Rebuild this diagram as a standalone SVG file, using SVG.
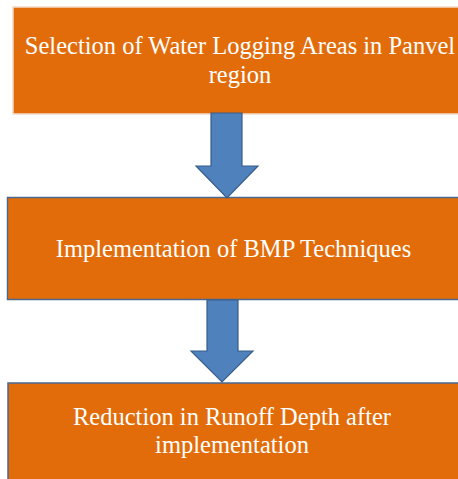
<svg xmlns="http://www.w3.org/2000/svg" width="458" height="479" viewBox="0 0 458 479">
<style>
.box{fill:#E36C0A;stroke-width:1.5}
.t{font-family:"Liberation Serif","Times New Roman",serif;font-size:24.5px;fill:#FFFFFF;text-anchor:middle}
.arr{fill:#4F81BD;stroke:#385D8A;stroke-width:1.2}
</style>
<rect width="458" height="479" fill="#FFFFFF"/>
<g id="node1">
<rect class="box" x="13" y="7" width="460" height="107" stroke="#F2DCC8"/>
<text class="t" x="240" y="54">Selection of Water Logging Areas in Panvel</text>
<text class="t" x="240" y="83">region</text>
</g>
<g id="node2">
<rect class="box" x="7.5" y="197.5" width="470" height="102" stroke="#4A6890"/>
<text class="t" x="233.5" y="257">Implementation of BMP Techniques</text>
</g>
<g id="node3">
<rect class="box" x="8" y="383" width="470" height="110" stroke="#4A6890"/>
<text class="t" x="232" y="425">Reduction in Runoff Depth after</text>
<text class="t" x="232" y="453">implementation</text>
</g>
<g id="connectors">
<polygon class="arr" points="211,113 242,113 242,166 258,166 227,198 196,166 211,166"/>
<polygon class="arr" points="207,300 238,300 238,351 253,351 222,382 191,351 207,351"/>
</g>
</svg>
